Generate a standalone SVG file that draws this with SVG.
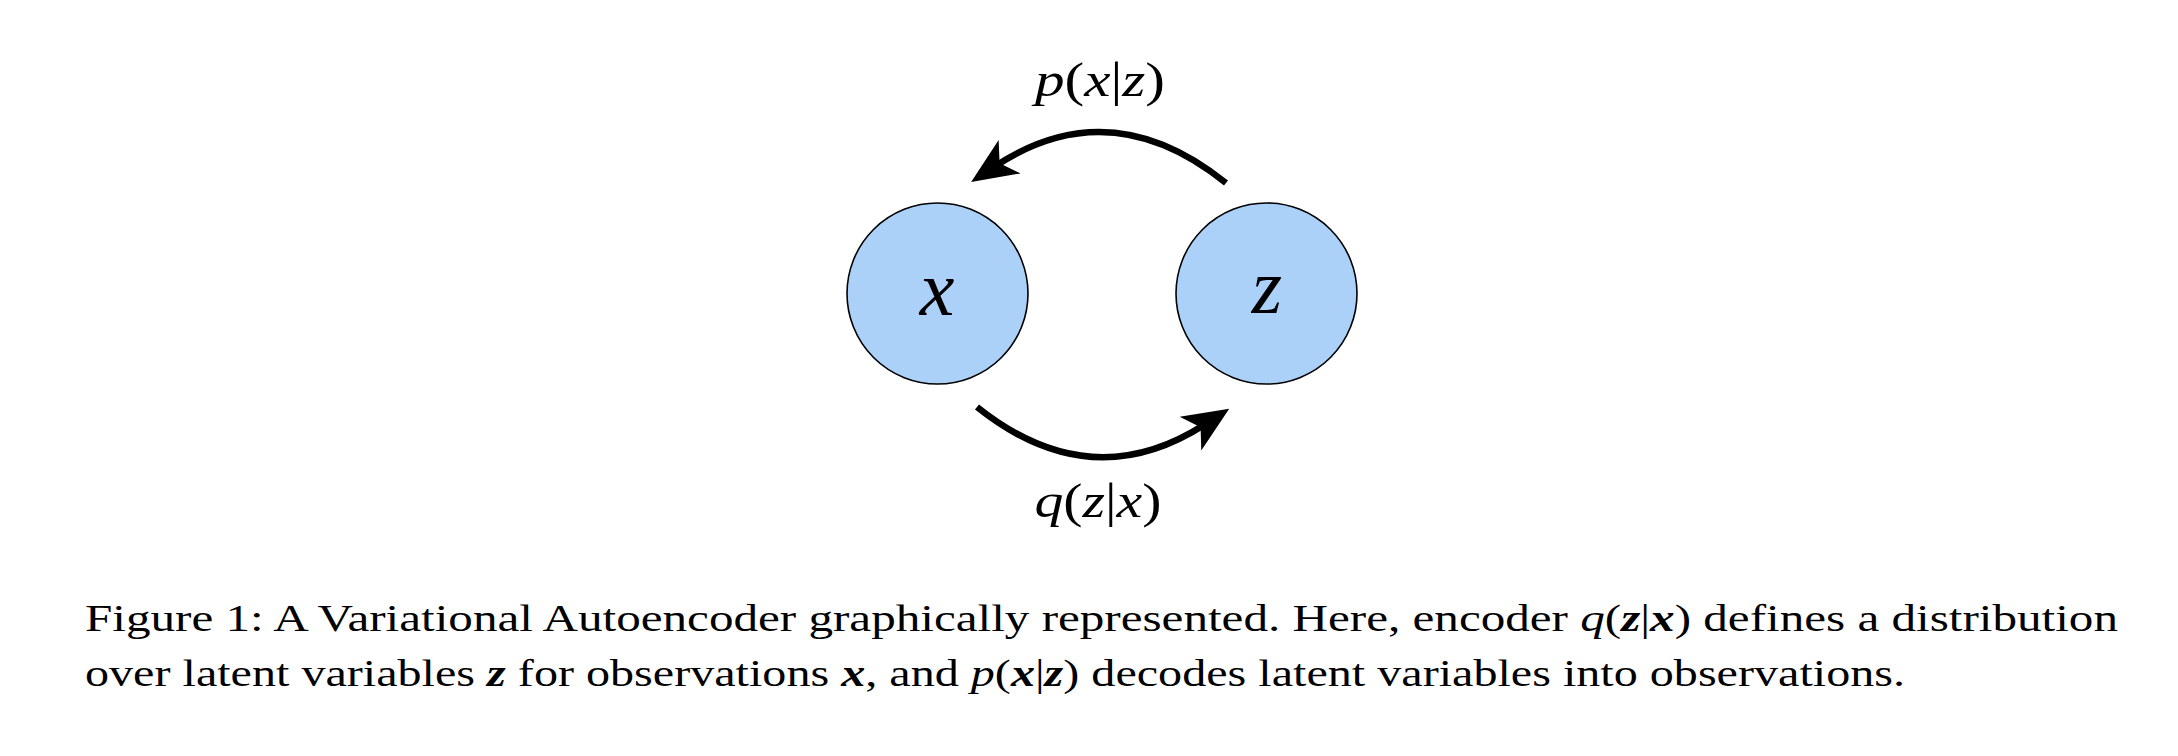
<svg xmlns="http://www.w3.org/2000/svg" width="2178" height="756" viewBox="0 0 2178 756">
  <style>
    text { font-family: 'Liberation Serif', 'Times New Roman', serif; fill: #000; }
    .node { fill: #acd1f8; stroke: #000; stroke-width: 1.6; }
    .nlabel { font-style: italic; font-size: 78px; text-anchor: middle; }
    .edge { fill: none; stroke: #000; stroke-width: 6.5; }
    .elabel { font-size: 48px; text-anchor: middle; }
    .it { font-style: italic; }
    .cap { font-size: 38px; }
    .bi { font-style: italic; font-weight: bold; }
  </style>
  <defs>
    <marker id="arrow" markerUnits="userSpaceOnUse" markerWidth="80" markerHeight="60" viewBox="-30 -30 80 60" refX="0" refY="0" orient="auto" overflow="visible">
      <path d="M29,0 L-17,-20 L-5,0 L-17,20 Z" fill="#000"/>
    </marker>
  </defs>
  <rect width="2178" height="756" fill="#fff"/>

  <g id="connectors">
    <path class="edge" d="M1226 183 Q1110.7 90.4 995.4 166" marker-end="url(#arrow)"/>
    <path class="edge" d="M977 407 Q1090.5 497.8 1204.8 424.5" marker-end="url(#arrow)"/>
    <text class="elabel" x="1100" y="96" textLength="130" lengthAdjust="spacingAndGlyphs"><tspan class="it">p</tspan>(<tspan class="it">x</tspan>|<tspan class="it">z</tspan>)</text>
    <text class="elabel" x="1098" y="517" textLength="127" lengthAdjust="spacingAndGlyphs"><tspan class="it">q</tspan>(<tspan class="it">z</tspan>|<tspan class="it">x</tspan>)</text>
  </g>

  <g id="node-x">
    <circle class="node" cx="937.5" cy="293.5" r="90.5"/>
    <text class="nlabel" x="937" y="315">x</text>
  </g>
  <g id="node-z">
    <circle class="node" cx="1266.5" cy="293.5" r="90.5"/>
    <text class="nlabel" x="1267" y="313">z</text>
  </g>

  <g id="caption">
    <text class="cap" x="85" y="631" textLength="2033" lengthAdjust="spacingAndGlyphs">Figure 1:  A Variational Autoencoder graphically represented.  Here, encoder <tspan class="it">q</tspan>(<tspan class="bi">z</tspan>|<tspan class="bi">x</tspan>) defines a distribution</text>
    <text class="cap" x="85" y="686" textLength="1820" lengthAdjust="spacingAndGlyphs">over latent variables <tspan class="bi">z</tspan> for observations <tspan class="bi">x</tspan>, and <tspan class="it">p</tspan>(<tspan class="bi">x</tspan>|<tspan class="bi">z</tspan>) decodes latent variables into observations.</text>
  </g>
</svg>
